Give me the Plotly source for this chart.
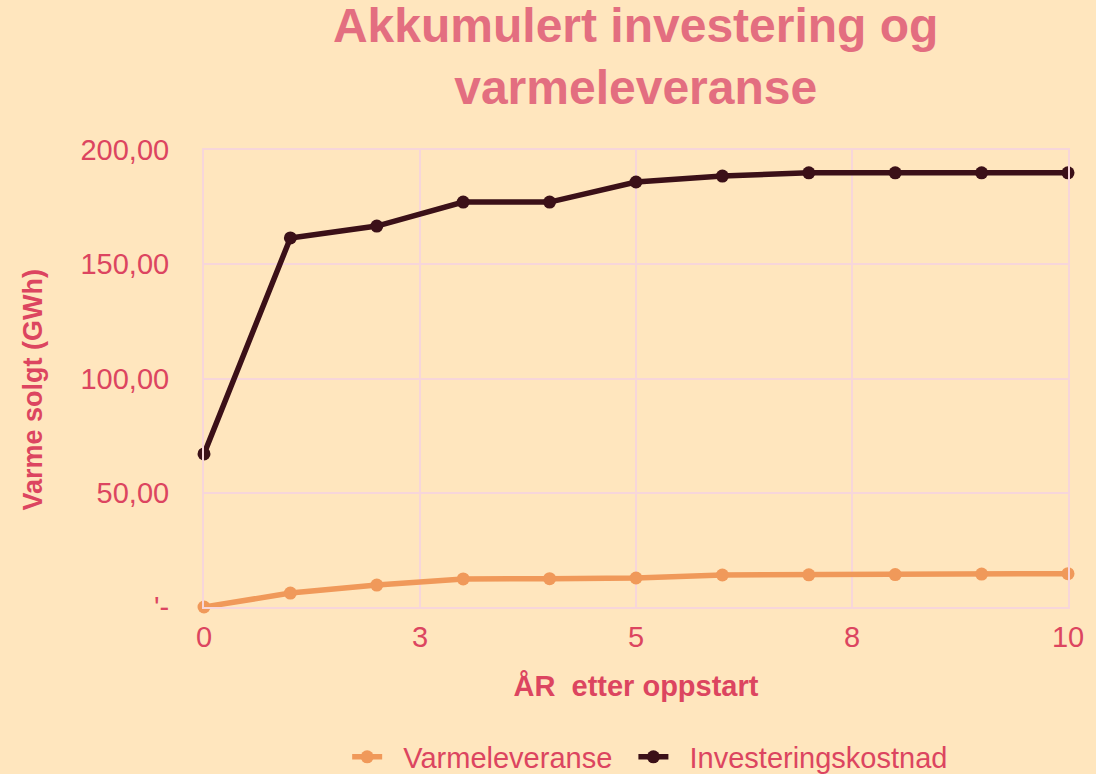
import plotly.graph_objects as go

years = [0, 1, 2, 3, 4, 5, 6, 7, 8, 9, 10]
varmeleveranse = [0.0, 6.1, 9.6, 12.3, 12.4, 12.7, 14.0, 14.1, 14.2, 14.4, 14.6]
investeringskostnad = [67.0, 161.5, 166.7, 177.2, 177.2, 186.0, 188.6, 190.0, 190.0, 190.0, 190.0]

x_tickvals = [0, 2.5, 5, 7.5, 10]
x_ticktext = ["0", "3", "5", "8", "10"]
y_tickvals = [0, 50, 100, 150, 200]
y_ticktext = ["'-", "50,00", "100,00", "150,00", "200,00"]

bg = "#FFE6BE"
red = "#DC4560"
grid = "#F7D6DA"
font = "Liberation Sans, Arial, sans-serif"
nb = "\u00a0"

fig = go.Figure()
fig.add_trace(go.Scatter(
    x=years, y=varmeleveranse, name=nb * 2 + "Varmeleveranse" + nb * 2, mode="lines+markers",
    line=dict(color="#F0995A", width=5.5), marker=dict(size=13, color="#F0995A"),
    cliponaxis=False,
))
fig.add_trace(go.Scatter(
    x=years, y=investeringskostnad, name=nb * 2 + "Investeringskostnad", mode="lines+markers",
    line=dict(color="#3B1018", width=5.5), marker=dict(size=13, color="#3B1018"),
    cliponaxis=False,
))

fig.update_layout(
    width=1096, height=774,
    paper_bgcolor=bg, plot_bgcolor=bg,
    margin=dict(l=204, r=28, t=150, b=167, autoexpand=False),
    font=dict(family=font, color=red),
    title=dict(
        text="<b>Akkumulert investering og<br>varmeleveranse</b>",
        x=0.58, xanchor="center", y=0.946, yanchor="top",
        font=dict(size=48, color="#E36E80", family=font),
    ),
    showlegend=True,
    legend=dict(
        orientation="h", x=0.5164, xanchor="center",
        yref="container", y=1 - 757 / 774, yanchor="middle",
        font=dict(size=29, color=red), bgcolor="rgba(0,0,0,0)",
    ),
    xaxis=dict(
        range=[0, 10], tickvals=x_tickvals, ticktext=x_ticktext,
        showgrid=True, gridcolor=grid, gridwidth=2, zeroline=False,
        showline=True, mirror=True, linecolor=grid, linewidth=2,
        ticks="outside", ticklen=3, tickcolor="rgba(0,0,0,0)",
        tickfont=dict(size=29, color=red), automargin=False,
        title=dict(text="<b>ÅR\u00a0 etter oppstart</b>", font=dict(size=29, color=red), standoff=24),
    ),
    yaxis=dict(
        range=[0, 200], tickvals=y_tickvals, ticktext=y_ticktext,
        showgrid=True, gridcolor=grid, gridwidth=2, zeroline=False,
        showline=True, mirror=True, linecolor=grid, linewidth=2,
        ticks="outside", ticklen=27, tickcolor="rgba(0,0,0,0)",
        tickfont=dict(size=29, color=red), automargin=False,
        title=dict(text="<b>Varme solgt (GWh)" + nb * 3 + "</b>", font=dict(size=27, color=red), standoff=30),
    ),
)

fig.write_html(
    "out.html",
    config={"displayModeBar": False},
    post_script="document.body.style.margin='0';document.body.style.background='#FFE6BE';",
)
